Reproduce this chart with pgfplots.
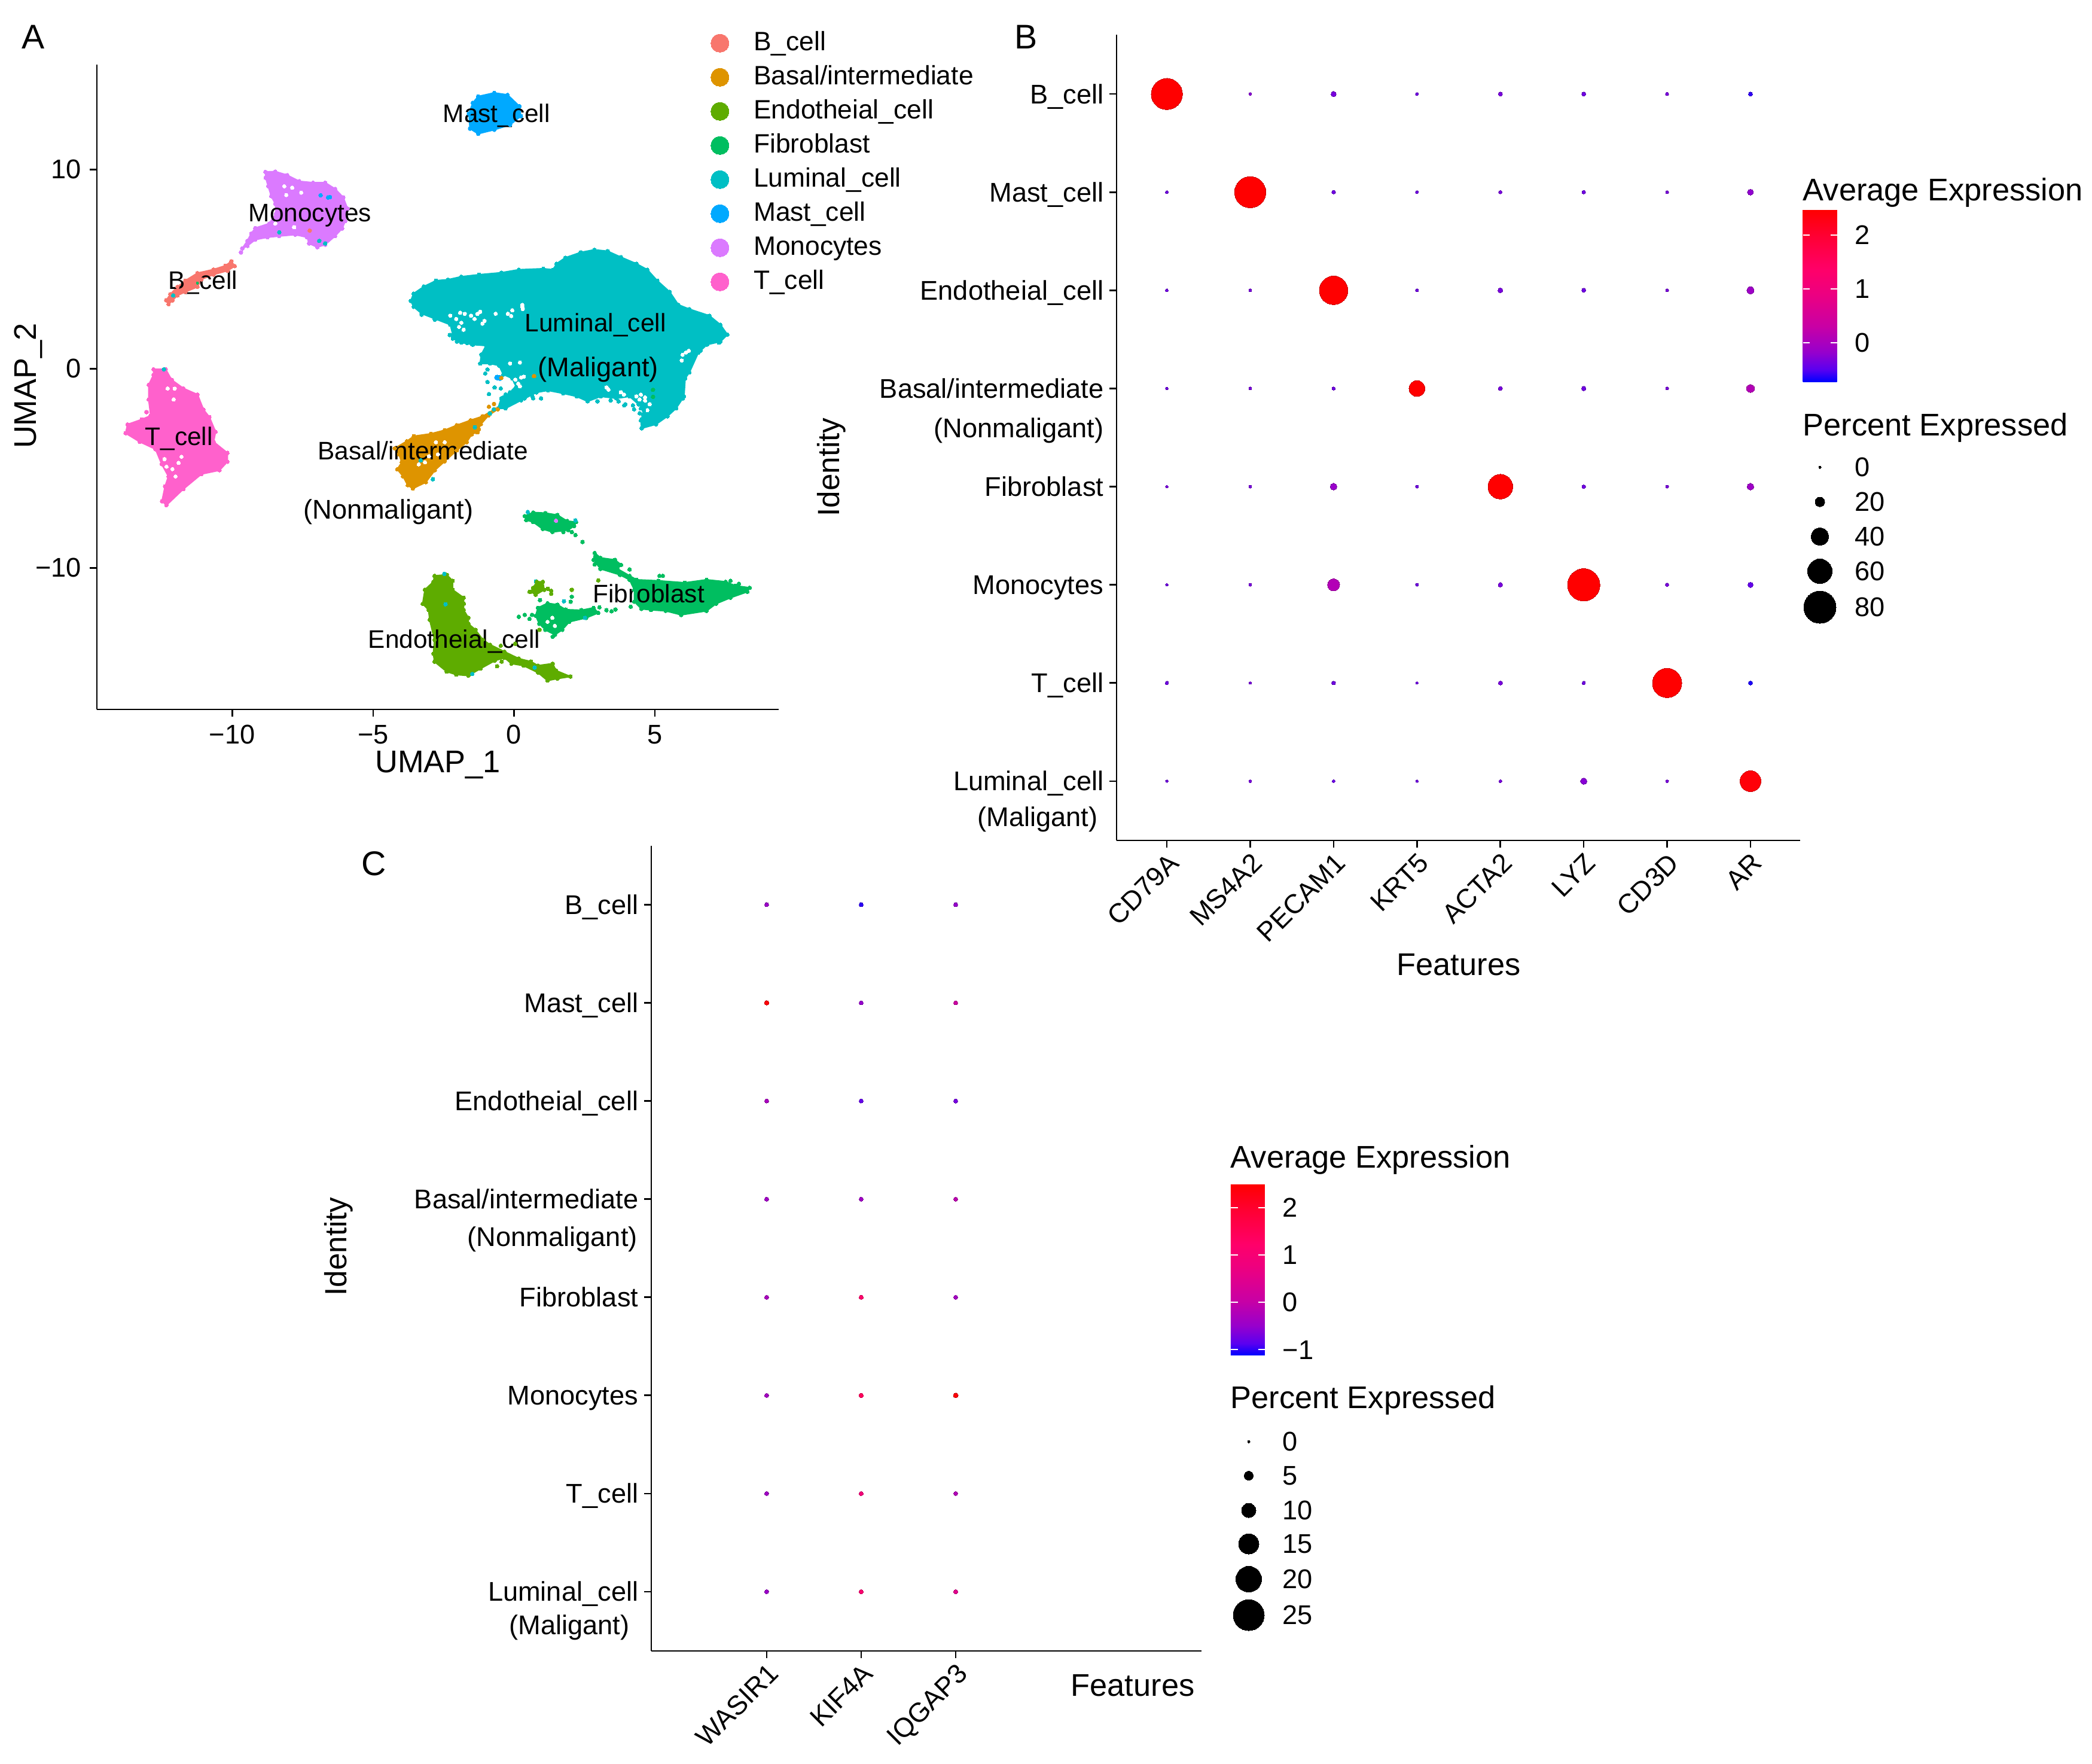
\documentclass[border=0pt]{standalone}
\usepackage{pgfplots}
\pgfplotsset{compat=1.18}
\usepackage{pgfplotstable}
\usepackage{fontspec}
\setmainfont{Liberation Sans}
\definecolor{cB}{HTML}{F8766D}
\definecolor{cBa}{HTML}{DE9400}
\definecolor{cE}{HTML}{5EAC00}
\definecolor{cF}{HTML}{00BE60}
\definecolor{cL}{HTML}{00BFC4}
\definecolor{cM}{HTML}{00A9FF}
\definecolor{cMo}{HTML}{DB7AFF}
\definecolor{cT}{HTML}{FF61CC}
\pgfplotsset{
  cl/.style={forget plot,fill=#1,draw=#1,line width=0.6pt,line join=round,mark=*,mark size=0.8pt,mark options={fill=#1,draw=#1,line width=0pt}},
  dots/.style={forget plot,only marks,mark=*,mark size=0.8pt,color=#1,mark options={line width=0pt}},
  holes/.style={forget plot,only marks,mark=*,mark size=0.75pt,color=white,mark options={line width=0pt}},
  panel/.style={scale only axis,clip=false,axis x line*=bottom,axis y line*=left,
    axis line style={line width=0.65pt,-},tick align=outside,major tick length=3pt,
    tick style={black,line width=0.65pt},ticklabel style={font=\fontsize{11.3}{13}\selectfont},
    /pgf/number format/assume math mode=true},
  dotpanel/.style={panel,yticklabel style={yshift=-1.1pt,xshift=1.1pt,text height=8.2pt,text depth=2.4pt}},
  colormap={br}{rgb255(0pt)=(0,0,255);rgb255(7pt)=(90,0,240);rgb255(17pt)=(150,0,205);rgb255(32pt)=(200,0,165);rgb255(50pt)=(235,0,130);rgb255(65pt)=(255,0,105);rgb255(85pt)=(255,0,50);rgb255(100pt)=(255,0,0)},
}
\pgfplotstableread{
x y v p
0 7 2.48 77
1 7 -0.25 3
2 7 -0.33 9
3 7 -0.38 3
4 7 -0.33 6
5 7 -0.38 6
6 7 -0.33 4
7 7 -0.60 6
0 6 -0.38 3
1 6 2.48 77
2 6 -0.38 5
3 6 -0.38 3
4 6 -0.33 4
5 6 -0.38 5
6 6 -0.33 3
7 6 -0.20 11
0 5 -0.38 3
1 5 -0.33 3
2 5 2.48 70
3 5 -0.38 3
4 5 -0.33 8
5 5 -0.38 6
6 5 -0.33 3
7 5 -0.10 14
0 4 -0.38 2
1 4 -0.33 3
2 4 -0.38 4
3 4 2.48 37
4 4 -0.33 6
5 4 -0.38 7
6 4 -0.33 3
7 4 0.10 16
0 3 -0.33 2
1 3 -0.33 3
2 3 -0.15 13
3 3 -0.38 3
4 3 2.48 60
5 3 -0.38 5
6 3 -0.33 3
7 3 -0.10 13
0 2 -0.38 2
1 2 -0.33 3
2 2 0.10 27
3 2 -0.38 3
4 2 -0.33 7
5 2 2.48 80
6 2 -0.33 4
7 2 -0.45 9
0 1 -0.38 4
1 1 -0.33 2
2 1 -0.38 5
3 1 -0.38 2
4 1 -0.33 6
5 1 -0.38 4
6 1 2.48 72
7 1 -0.65 6
0 0 -0.38 2
1 0 -0.33 3
2 0 -0.40 3
3 0 -0.38 2
4 0 -0.33 3
5 0 -0.25 12
6 0 -0.33 3
7 0 2.40 50
}\tabB
\pgfplotstableread{
x y v p
0 7 -0.45 1.0
1 7 -1.00 1.0
2 7 -0.50 1.0
0 6 2.40 1.4
1 6 -0.50 1.0
2 6 0.10 1.0
0 5 -0.30 1.0
1 5 -0.80 1.0
2 5 -0.70 1.0
0 4 -0.40 1.0
1 4 -0.40 1.0
2 4 -0.10 1.0
0 3 -0.30 1.0
1 3 1.20 1.2
2 3 -0.35 1.0
0 2 -0.35 1.0
1 2 1.40 1.3
2 2 2.40 1.6
0 1 -0.40 1.0
1 1 0.90 1.1
2 1 -0.20 1.0
0 0 -0.45 1.0
1 0 1.10 1.2
2 0 0.50 1.1
}\tabC
\begin{document}
\begin{tikzpicture}
\path[use as bounding box] (0,0) rectangle (874.5pt,737pt);
% ---------- Panel A
\begin{axis}[panel,at={(40.5pt,440.5pt)},anchor=south west,width=285pt,height=269.5pt,
  xmin=-14.8,xmax=9.39,ymin=-17.11,ymax=15.27,
  xtick={-10,-5,0,5},xticklabels={−10,−5,0,5},
  ytick={-10,0,10},yticklabels={−10,0,10},
  legend style={draw=none,fill=none,font=\fontsize{11.1}{13}\selectfont,at={(1,1)},anchor=north west,xshift=-31.5pt,yshift=17.15pt,
    nodes={inner sep=0pt,text height=9pt,text depth=3pt},row sep=2.25pt,/tikz/column 1/.style={column sep=10.3pt}},
  legend cell align=left]
\addplot[cl=cL] coordinates {(-3.66,3.41)(-3.56,3.77)(-3.20,4.12)(-2.77,4.42)(-2.34,4.47)(-1.87,4.62)(-1.24,4.72)(-0.45,4.82)(0.17,4.97)(1.04,5.02)(1.39,4.97)(1.51,5.27)(1.82,5.57)(2.37,5.84)(2.85,5.97)(3.32,5.90)(3.79,5.60)(4.34,5.27)(4.73,4.97)(5.08,4.42)(5.52,3.86)(5.83,3.21)(6.22,2.99)(6.93,2.66)(7.32,2.21)(7.57,1.71)(7.32,1.36)(6.85,1.21)(6.54,0.81)(6.22,-0.19)(6.07,-0.49)(6.03,-1.39)(5.75,-1.99)(5.44,-2.39)(5.04,-2.79)(4.53,-2.99)(4.50,-2.59)(4.65,-2.09)(4.42,-1.79)(4.10,-1.39)(3.63,-1.49)(3.08,-1.39)(2.61,-1.64)(2.22,-1.39)(1.75,-1.24)(1.20,-1.09)(0.80,-1.19)(0.25,-1.59)(-0.30,-1.99)(-0.57,-1.99)(-0.45,-1.49)(-0.14,-1.19)(0.06,-0.89)(-0.06,-0.49)(-0.38,-0.29)(-0.53,0.16)(-0.85,0.26)(-1.20,0.26)(-1.16,0.71)(-0.99,1.16)(-1.48,1.21)(-2.03,1.36)(-2.17,1.71)(-2.26,2.21)(-2.81,2.51)(-3.28,2.77)(-3.56,3.11)} -- cycle;
\addplot[holes] coordinates {(-1.91,2.81)(-2.26,2.66)(-1.87,2.31)(-1.52,2.66)(-1.20,2.86)(-1.12,2.26)(-1.79,1.96)(-0.22,2.76)(-0.06,2.93)(0.29,3.11)(-0.65,2.76)(0.21,0.31)(-0.14,0.26)(0.25,-0.44)(0.21,-0.89)(-0.14,-0.69)(6.10,0.81)(5.95,0.41)(3.28,-0.94)(3.79,-1.19)(4.34,-1.39)(4.65,-1.44)(4.81,-1.79)(4.73,-2.09)(-1.75,2.75)(-2.05,2.5)(-1.95,2.1)(-1.4,2.5)(-1.3,2.75)(-1.05,2.4)(-0.1,2.65)(0.31,3.0)(0.29,3.2)(0.05,-0.55)(0.35,-0.4)(-0.05,-0.85)(0.15,-0.75)(4.45,-1.55)(4.5,-1.3)(4.65,-1.6)(3.35,-1.05)(3.9,-1.3)(5.98,0.7)(6.2,0.9)};
\addplot[dots=cL] coordinates {(-2.28,1.69)(-2.09,1.53)(-1.67,1.29)(-1.45,1.21)(-1.02,-0.24)(-0.94,-0.04)(-0.94,-0.67)(-0.69,-0.94)(-0.89,-1.27)(-0.38,-1.44)(-0.47,-0.99)(-0.86,-2.27)(0.68,-1.49)(3.91,-1.84)(4.26,-2.04)(4.46,-2.24)(4.61,-2.09)(4.53,-2.54)(3.71,-1.64)(2.96,-1.64)(0.96,-1.49)(0.65,-1.39)(0.37,-1.49)(0.10,-1.54)(-0.14,-1.64)(-0.38,-1.74)(3.16,-1.24)(3.43,-1.59)(3.95,-1.79)(4.22,-1.84)(4.50,-1.99)(4.57,-2.29)(-0.30,-1.29)(-2.17,1.51)(-1.87,1.31)(-2.81,2.46)(-3.28,2.71)(6.62,0.91)(6.14,-0.09)(5.99,-1.49)(7.27,1.31)};
\addplot[dots=cM,mark size=1.1pt] coordinates {(-0.60,-0.44)(-0.50,-0.46)};
\addplot[dots=cBa] coordinates {(-0.45,-0.46)(0.71,-0.37)(-0.89,-1.91)(-0.71,-1.77)};
\addplot[dots=cF] coordinates {(4.93,-1.06)(4.93,-1.41)};
% Basal
\addplot[cl=cBa] coordinates {(-0.58,-2.04)(-0.90,-2.34)(-1.18,-2.79)(-1.32,-3.19)(-1.50,-3.29)(-1.68,-3.69)(-2.03,-4.10)(-2.46,-4.65)(-2.81,-5.10)(-3.13,-5.70)(-3.59,-6.02)(-3.77,-5.85)(-3.94,-5.40)(-4.14,-5.05)(-3.98,-4.70)(-4.08,-4.30)(-4.23,-4.00)(-3.80,-3.64)(-3.55,-3.39)(-2.95,-3.27)(-2.46,-3.09)(-2.03,-2.84)(-1.54,-2.59)(-1.11,-2.39)(-0.69,-2.04)} -- cycle;
\addplot[holes] coordinates {(-2.77,-3.69)(-2.46,-3.69)(-3.02,-4.40)(-2.70,-4.30)(-3.38,-4.80)(-3.16,-4.70)};
\addplot[dots=cBa] coordinates {(-1.25,-3.04)(-1.29,-3.19)};
\addplot[dots=cL] coordinates {(-1.39,-2.94)(-3.31,-4.60)(-2.88,-5.55)(-0.86,-2.24)(-0.72,-2.04)};
% Monocytes
\addplot[cl=cMo] coordinates {(-8.82,9.88)(-8.47,9.90)(-8.05,9.72)(-7.62,9.41)(-7.13,9.34)(-6.70,9.34)(-6.35,9.03)(-6.06,8.60)(-5.91,8.04)(-5.99,7.41)(-6.10,7.04)(-6.35,6.66)(-6.70,6.23)(-6.98,6.10)(-7.27,6.29)(-7.34,6.60)(-7.76,6.73)(-8.33,6.66)(-8.75,6.60)(-9.18,6.48)(-9.46,6.17)(-9.64,6.04)(-9.46,6.42)(-9.32,6.79)(-9.18,7.06)(-8.68,7.29)(-8.44,7.79)(-8.47,8.28)(-8.61,8.66)(-8.72,9.16)(-8.81,9.59)} -- cycle;
\addplot[holes] coordinates {(-8.15,9.16)(-7.87,9.09)(-8.08,8.72)(-8.47,7.29)(-7.80,7.10)(-7.55,8.84)};
\addplot[dots=cMo] coordinates {(-9.69,5.84)};
\addplot[dots=cM] coordinates {(-6.86,8.71)(-6.60,8.60)(-6.53,8.62)};
\addplot[dots=cL] coordinates {(-6.91,6.42)(-6.70,6.29)(-8.33,6.85)};
\addplot[dots=cB] coordinates {(-7.25,6.94)};
% B cells
\addplot[cl=cB] coordinates {(-10.03,5.39)(-9.91,5.15)(-10.17,4.92)(-10.66,4.73)(-11.09,4.49)(-11.23,4.11)(-11.66,3.86)(-11.94,3.68)(-12.12,3.43)(-12.26,3.24)(-12.34,3.43)(-12.19,3.74)(-11.94,4.11)(-11.66,4.42)(-11.23,4.80)(-10.66,4.98)(-10.24,5.17)} -- cycle;
\addplot[dots=cL] coordinates {(-12.09,3.68)};
\addplot[dots=cF,mark size=0.5pt] coordinates {(-11.23,4.30)};
% T cells
\addplot[cl=cT] coordinates {(-12.79,-0.03)(-12.36,-0.03)(-12.15,-0.56)(-11.73,-0.99)(-11.23,-1.30)(-11.02,-2.05)(-10.81,-2.43)(-10.59,-3.17)(-10.66,-3.67)(-10.17,-4.23)(-10.17,-4.67)(-10.45,-5.10)(-11.09,-5.29)(-11.73,-6.04)(-12.33,-6.85)(-12.49,-6.66)(-12.38,-5.91)(-12.26,-5.41)(-12.50,-4.79)(-12.72,-4.04)(-13.28,-3.67)(-13.78,-3.24)(-13.71,-2.80)(-13.21,-2.55)(-12.89,-2.36)(-12.96,-1.55)(-12.96,-0.81)(-12.79,-0.31)} -- cycle;
\addplot[holes] coordinates {(-12.08,-1.55)(-12.04,-1.0)(-12.29,-0.99)(-12.40,-4.54)(-12.12,-5.04)(-12.01,-5.41)(-11.90,-4.73)(-11.8,-4.42)(-12.33,-4.92)};
\addplot[dots=cT] coordinates {(-13.04,-2.18)};
\addplot[dots=cL] coordinates {(-12.42,-0.03)};
% Mast
\addplot[cl=cM] coordinates {(-1.27,13.67)(-0.70,13.85)(-0.23,13.75)(0.19,13.18)(0.24,12.68)(-0.14,12.25)(-0.70,12.0)(-1.27,11.80)(-1.56,12.05)(-1.60,12.80)(-1.46,13.35)} -- cycle;
% Fibroblast
\addplot[cl=cF] coordinates {(0.38,-7.40)(0.68,-7.22)(1.11,-7.25)(1.54,-7.35)(1.88,-7.65)(2.20,-7.70)(2.13,-7.90)(1.92,-8.10)(1.36,-8.20)(1.02,-8.05)(0.68,-7.70)(0.43,-7.60)} -- cycle;
\addplot[cl=cF] coordinates {(2.86,-9.25)(3.07,-9.50)(3.58,-9.60)(3.80,-9.85)(3.67,-10.05)(4.10,-10.40)(4.35,-10.60)(5.12,-10.65)(6.06,-10.75)(6.83,-10.60)(7.51,-10.70)(7.85,-10.90)(8.36,-11.00)(8.28,-11.20)(7.68,-11.50)(7.17,-11.80)(6.83,-12.16)(5.93,-12.36)(5.38,-12.16)(4.86,-12.11)(4.52,-12.06)(4.27,-11.70)(4.27,-11.10)(4.10,-10.60)(3.76,-10.35)(3.07,-10.05)(2.82,-9.60)} -- cycle;
\addplot[cl=cF] coordinates {(0.85,-12.01)(1.19,-11.78)(1.54,-11.85)(1.83,-12.10)(2.39,-12.13)(2.82,-12.01)(2.99,-12.26)(2.56,-12.51)(1.96,-12.71)(1.71,-13.11)(1.45,-13.36)(1.11,-13.11)(0.90,-12.81)(0.77,-12.41)} -- cycle;
\addplot[holes] coordinates {(1.36,-12.51)(1.19,-12.71)(1.45,-12.91)};
\addplot[dots=cF] coordinates {(2.18,-8.35)(2.05,-8.20)(2.43,-8.70)(1.75,-8.20)(4.14,-11.95)(5.16,-10.40)(5.28,-10.40)(3.88,-10.35)(4.10,-10.08)(2.86,-9.83)(7.68,-10.65)(7.98,-10.80)(5.38,-12.10)(0.17,-12.46)(0.38,-12.36)(0.64,-12.36)(0.55,-12.56)(0.92,-11.62)(1.37,-13.46)(3.28,-12.13)(3.46,-12.18)(3.60,-12.09)(3.03,-11.98)(2.05,-11.45)(2.01,-11.70)};
\addplot[dots=cL] coordinates {(0.49,-7.20)(2.18,-7.62)(0.78,-10.68)(1.77,-11.68)(2.52,-12.51)};
\addplot[dots=cMo] coordinates {(1.49,-7.63)};
% Endothelial
\addplot[cl=cE] coordinates {(-2.82,-10.40)(-2.39,-10.35)(-2.18,-10.65)(-2.18,-11.10)(-1.79,-11.50)(-1.79,-12.11)(-1.62,-12.51)(-1.62,-12.81)(-1.37,-13.11)(-1.11,-13.61)(-0.85,-13.86)(-0.34,-14.21)(0.17,-14.56)(0.60,-14.71)(0.85,-14.91)(1.37,-14.81)(1.49,-15.16)(2.00,-15.46)(1.54,-15.56)(1.19,-15.66)(0.85,-15.26)(0.34,-14.91)(-0.09,-14.81)(-0.34,-14.51)(-0.68,-14.66)(-1.19,-15.06)(-1.62,-15.41)(-2.05,-15.36)(-2.39,-15.21)(-2.82,-14.71)(-2.86,-14.31)(-2.82,-13.61)(-2.99,-12.61)(-3.03,-12.11)(-3.24,-11.81)(-3.16,-11.10)(-2.86,-10.70)} -- cycle;
\addplot[cl=cE] coordinates {(0.68,-11.0)(0.81,-10.70)(1.02,-10.70)(1.07,-11.10)(0.77,-11.35)(0.60,-11.20)} -- cycle;
\addplot[dots=cE] coordinates {(1.20,-11.05)(1.32,-11.30)(1.32,-11.15)(0.55,-11.20)(2.05,-11.10)(2.99,-10.63)(-1.78,-11.80)(-0.60,-14.94)(-0.44,-14.71)(0.04,-13.81)(-0.47,-13.91)(0.90,-13.11)};
\addplot[dots=cL] coordinates {(-2.47,-10.30)(-2.43,-11.83)(-1.48,-15.33)(0.73,-15.01)};
% legend
\addlegendimage{only marks,mark=*,mark size=3.75pt,color=cB,mark options={line width=0pt}}\addlegendentry{B\_cell}
\addlegendimage{only marks,mark=*,mark size=3.75pt,color=cBa,mark options={line width=0pt}}\addlegendentry{Basal/intermediate}
\addlegendimage{only marks,mark=*,mark size=3.75pt,color=cE,mark options={line width=0pt}}\addlegendentry{Endotheial\_cell}
\addlegendimage{only marks,mark=*,mark size=3.75pt,color=cF,mark options={line width=0pt}}\addlegendentry{Fibroblast}
\addlegendimage{only marks,mark=*,mark size=3.75pt,color=cL,mark options={line width=0pt}}\addlegendentry{Luminal\_cell}
\addlegendimage{only marks,mark=*,mark size=3.75pt,color=cM,mark options={line width=0pt}}\addlegendentry{Mast\_cell}
\addlegendimage{only marks,mark=*,mark size=3.75pt,color=cMo,mark options={line width=0pt}}\addlegendentry{Monocytes}
\addlegendimage{only marks,mark=*,mark size=3.75pt,color=cT,mark options={line width=0pt}}\addlegendentry{T\_cell}
% cluster names
\begin{scope}[every node/.style={font=\fontsize{10.6}{12}\selectfont,inner sep=0pt,text=black}]
\node at (axis cs:-0.62,12.70) {Mast\_cell};
\node at (axis cs:-7.24,7.68) {Monocytes};
\node at (axis cs:-11.04,4.33) {B\_cell};
\node at (axis cs:2.89,2.18) {Luminal\_cell};
\node[font=\fontsize{11.3}{13}\selectfont] at (axis cs:2.99,-0.03) {(Maligant)};
\node at (axis cs:-11.89,-3.51) {T\_cell};
\node at (axis cs:-3.23,-4.11) {Basal/intermediate};
\node[font=\fontsize{11.3}{13}\selectfont] at (axis cs:-4.46,-7.19) {(Nonmaligant)};
\node at (axis cs:4.78,-11.29) {Fibroblast};
\node at (axis cs:-2.12,-13.71) {Endotheial\_cell};
\end{scope}
\end{axis}
% ---------- Panel B
\begin{axis}[dotpanel,at={(466.75pt,385.75pt)},anchor=south west,width=285.75pt,height=336.75pt,
  xmin=-0.603,xmax=7.596,ymin=-0.604,ymax=7.604,
  xtick={0,...,7},xticklabels={CD79A,MS4A2,PECAM1,KRT5,ACTA2,LYZ,CD3D,AR},
  xticklabel style={rotate=45,anchor=north east,inner sep=1pt},
  ytick={0,...,7},yticklabels={Luminal\_cell,T\_cell,Monocytes,Fibroblast,Basal/intermediate,Endotheial\_cell,Mast\_cell,B\_cell},
  point meta min=-0.72,point meta max=2.48,colormap name=br,
  colorbar,colorbar style={at={(parent axis.north east)},anchor=north west,xshift=-7.4pt,yshift=-73pt,
    width=14.5pt,height=72pt,ytick={0,1,2},yticklabels={0,1,2},ytick pos=both,yticklabel pos=right,
    axis line style={draw=none},tick align=inside,major tick length=2.9pt,
    ytick style={white,line width=0.5pt},yticklabel style={font=\fontsize{11.3}{13}\selectfont,xshift=3.8pt}}]
\addplot[forget plot,scatter,only marks,mark=*,mark options={line width=0pt},
  scatter src=explicit,visualization depends on={(3+0.64*\thisrow{p})*0.125 \as \rad},
  scatter/@pre marker code/.append style={/tikz/mark size=\rad}]
  table[x=x,y=y,meta=v]{\tabB};
\begin{scope}[every node/.style={font=\fontsize{11.3}{13}\selectfont,inner sep=0pt,anchor=east}]
\node at (axis cs:-0.752,3.573) {(Nonmaligant)};
\node at (axis cs:-0.824,-0.387) {(Maligant)};
\end{scope}
\end{axis}
% ---------- Panel C
\begin{axis}[dotpanel,at={(272.25pt,47pt)},anchor=south west,width=230pt,height=336.5pt,
  xmin=-1.22,xmax=4.60,ymin=-0.604,ymax=7.60,
  xtick={0,1,2},xticklabels={WASIR1,KIF4A,IQGAP3},
  xticklabel style={rotate=45,anchor=north east,inner sep=1pt},
  ytick={0,...,7},yticklabels={Luminal\_cell,T\_cell,Monocytes,Fibroblast,Basal/intermediate,Endotheial\_cell,Mast\_cell,B\_cell},
  point meta min=-1.12,point meta max=2.5,colormap name=br,
  colorbar,colorbar style={at={(parent axis.north east)},anchor=north west,xshift=3.7pt,yshift=-141.4pt,
    width=14.4pt,height=71.6pt,ytick={-1,0,1,2},yticklabels={−1,0,1,2},ytick pos=both,yticklabel pos=right,
    axis line style={draw=none},tick align=inside,major tick length=2.9pt,
    ytick style={white,line width=0.5pt},yticklabel style={font=\fontsize{11.3}{13}\selectfont,xshift=3.8pt}}]
\addplot[forget plot,scatter,only marks,mark=*,mark options={line width=0pt},
  scatter src=explicit,visualization depends on={(5+1.9*\thisrow{p})*0.125 \as \rad},
  scatter/@pre marker code/.append style={/tikz/mark size=\rad}]
  table[x=x,y=y,meta=v]{\tabC};
\begin{scope}[every node/.style={font=\fontsize{11.3}{13}\selectfont,inner sep=0pt,anchor=east}]
\node at (axis cs:-1.362,3.588) {(Nonmaligant)};
\node at (axis cs:-1.445,-0.367) {(Maligant)};
\end{scope}
\end{axis}
% ---------- Overlay in image pixels: titles and size legends
\begin{axis}[scale only axis,hide axis,clip=false,at={(0,0)},anchor=south west,width=874.5pt,height=737pt,
  xmin=0,xmax=3498,ymin=0,ymax=2948,y dir=reverse]
\addplot[only marks,mark=*,black,mark options={line width=0pt},
  visualization depends on={\thisrow{d}*0.125 \as \rad},
  scatter,scatter/use mapped color={draw=black,fill=black},
  scatter/@pre marker code/.append style={/tikz/mark size=\rad}] table[x=x,y=y]{
x y d
3043 781 4
3043 839 16
3043 897 29
3043 955 41
3043 1015 54
2088 2410 4
2088 2467 15
2088 2525 24
2088 2581 34
2088 2640 43
2088 2700 52
};
\begin{scope}[every node/.style={inner sep=0pt,font=\fontsize{13.1}{15}\selectfont}]
\node[font=\fontsize{14.3}{16}\selectfont] at (axis cs:56,62) {A};
\node[font=\fontsize{14.3}{16}\selectfont] at (axis cs:1716,62) {B};
\node[font=\fontsize{14.3}{16}\selectfont] at (axis cs:625,1444) {C};
\node at (axis cs:732,1279) {UMAP\_1};
\node[rotate=90] at (axis cs:47,645) {UMAP\_2};
\node at (axis cs:2439,1613) {Features};
\node at (axis cs:1894,2818) {Features};
\node[rotate=90,font=\fontsize{12.8}{15}\selectfont] at (axis cs:1390,781) {Identity};
\node[rotate=90,font=\fontsize{12.8}{15}\selectfont] at (axis cs:566,2084) {Identity};
\node[anchor=west] at (axis cs:3014,322) {Average Expression};
\node[anchor=west] at (axis cs:3014,715) {Percent Expressed};
\node[anchor=west] at (axis cs:2057,1939) {Average Expression};
\node[anchor=west] at (axis cs:2057,2341) {Percent Expressed};
\end{scope}
\begin{scope}[every node/.style={inner sep=0pt,anchor=west,font=\fontsize{11.3}{13}\selectfont}]
\node at (axis cs:3101,781) {0};
\node at (axis cs:3101,839) {20};
\node at (axis cs:3101,897) {40};
\node at (axis cs:3101,955) {60};
\node at (axis cs:3101,1015) {80};
\node at (axis cs:2144,2410) {0};
\node at (axis cs:2144,2467) {5};
\node at (axis cs:2144,2525) {10};
\node at (axis cs:2144,2581) {15};
\node at (axis cs:2144,2640) {20};
\node at (axis cs:2144,2700) {25};
\end{scope}
\end{axis}
\end{tikzpicture}
\end{document}
